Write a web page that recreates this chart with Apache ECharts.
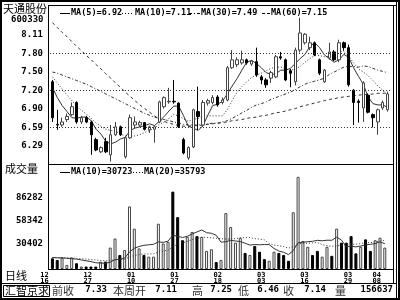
<!DOCTYPE html>
<html><head><meta charset="utf-8">
<script src="https://cdn.jsdelivr.net/npm/echarts@6/dist/echarts.min.js"></script>
<style>html,body{margin:0;padding:0;background:#fff}#c{width:400px;height:300px}</style>
</head><body><div id="c"></div>
<script>
const openP = [7.34,6.64,6.63,6.72,6.80,7.00,6.68,6.75,6.68,6.39, 6.19,6.36,6.14,6.47,6.60,6.11,6.42,6.63,6.63,6.67, 6.55,6.56,6.68,6.93,7.01,7.02,6.99,6.39,6.09,6.27, 6.85,6.63,6.99,7.00,7.09,7.00,7.04,7.57,7.62,7.65, 7.70,7.63,7.67,7.42,7.37,7.40,7.42,7.75,7.70,7.52, 7.34,7.86,7.98,7.90,7.98,7.70,7.34,7.73,7.83,7.70, 7.98,7.90,7.20,7.02,6.91,7.12,6.80,6.68,6.91,6.88];
const closeP = [6.75,6.63,6.68,6.77,6.93,6.68,6.75,6.68,6.47,6.22, 6.26,6.19,6.47,6.60,6.47,6.42,6.75,6.68,6.67,6.56, 6.60,6.60,7.01,7.08,7.02,7.01,6.60,6.17,6.26,6.88, 6.77,7.00,7.03,7.08,6.96,7.04,7.57,7.70,7.70,7.70, 7.65,7.68,7.45,7.37,7.29,7.49,7.75,7.73,7.37,7.48, 7.86,8.14,8.12,7.98,7.78,7.48,7.53,7.83,7.70,7.98, 7.90,7.29,7.00,7.00,7.32,6.84,6.75,6.88,7.00,7.14];
const highP = [7.37,6.88,6.75,6.82,7.00,7.02,6.78,6.78,6.70,6.42, 6.28,6.42,6.63,6.68,6.62,6.45,6.80,6.77,6.70,6.68, 6.62,6.62,7.03,7.10,7.24,7.37,7.00,6.42,6.28,6.90, 7.26,7.04,7.06,7.12,7.12,7.08,7.60,7.86,7.74,7.85, 7.72,7.70,7.90,7.45,7.40,7.52,7.78,7.83,7.72,7.55, 7.90,8.39,8.14,8.08,8.00,7.72,7.55,7.98,7.86,8.03, 8.00,7.95,7.22,7.05,7.35,7.15,6.82,6.90,7.03,7.18];
const lowP = [6.68,6.55,6.60,6.68,6.78,6.65,6.65,6.66,6.14,6.20, 6.17,6.17,6.03,6.45,6.45,6.08,6.40,6.58,6.60,6.54, 6.50,6.34,6.66,6.90,6.98,6.98,6.58,6.15,6.06,6.25, 6.55,6.60,6.95,6.97,6.93,6.97,7.02,7.55,7.58,7.62, 7.62,7.60,7.42,7.30,7.24,7.32,7.40,7.70,7.35,7.25, 7.28,7.82,7.95,7.86,7.76,7.45,7.32,7.70,7.68,7.66, 7.85,7.26,6.63,6.67,6.68,6.82,6.59,6.47,6.88,6.85];
const volume = [13000,11000,14000,5000,14000,7000,3000,3000,3000,3000, 9000,9000,26000,37000,17000,23000,76000,49000,25000,17000, 15000,15000,55000,31000,33000,94000,63000,35000,39000,45000, 40000,39000,22000,24000,8500,11000,68000,51000,32000,38000, 19500,17000,28000,21000,12000,10000,21000,19500,17000,10000, 69000,112000,34000,27000,17000,22000,15000,27000,16000,49000, 32000,32000,40000,19000,27000,36000,22000,35000,38000,26000];
const ma5 = [7.25,7.08,6.95,6.85,6.75,6.74,6.76,6.76,6.70,6.56, 6.48,6.36,6.32,6.35,6.40,6.43,6.54,6.58,6.60,6.62, 6.65,6.62,6.69,6.77,6.86,6.94,6.94,6.78,6.61,6.58, 6.54,6.62,6.79,6.95,6.97,7.02,7.14,7.27,7.39,7.53, 7.66,7.69,7.64,7.57,7.49,7.46,7.47,7.53,7.53,7.56, 7.64,7.72,7.79,7.92,7.98,7.90,7.78,7.72,7.66,7.70, 7.79,7.74,7.57,7.43,7.30,7.09,6.98,6.96,6.96,6.92];
const ma10 = [7.42,7.32,7.22,7.12,7.03,6.94,6.87,6.81,6.74,6.66, 6.61,6.56,6.54,6.53,6.48,6.45,6.45,6.45,6.47,6.51, 6.54,6.58,6.64,6.68,6.74,6.80,6.78,6.73,6.69,6.72, 6.74,6.78,6.78,6.78,6.78,6.78,6.88,7.03,7.17,7.26, 7.34,7.41,7.45,7.48,7.52,7.56,7.58,7.58,7.55,7.53, 7.55,7.59,7.66,7.72,7.77,7.77,7.75,7.76,7.79,7.84, 7.84,7.76,7.65,7.55,7.50,7.44,7.36,7.27,7.20,7.11];
const ma30 = [7.50,7.48,7.45,7.42,7.39,7.36,7.33,7.30,7.26,7.22, 7.18,7.14,7.10,7.06,7.02,6.98,6.94,6.90,6.86,6.82, 6.79,6.76,6.74,6.72,6.70,6.68,6.66,6.64,6.63,6.63, 6.63,6.64,6.65,6.66,6.66,6.68,6.70,6.74,6.78,6.83, 6.87,6.92,6.96,6.98,7.01,7.05,7.08,7.11,7.14,7.17, 7.21,7.26,7.30,7.33,7.35,7.37,7.40,7.46,7.50,7.54, 7.58,7.59,7.59,7.58,7.60,7.59,7.56,7.53,7.51,7.49];
const ma60 = [8.31,8.23,8.15,8.08,8.00,7.92,7.85,7.77,7.70,7.62, 7.55,7.47,7.40,7.32,7.25,7.17,7.10,7.03,6.96,6.90, 6.84,6.78,6.73,6.69,6.66,6.64,6.62,6.61,6.61,6.62, 6.62,6.63,6.64,6.65,6.66,6.67,6.68,6.70,6.71,6.72, 6.74,6.75,6.76,6.78,6.79,6.81,6.83,6.84,6.86,6.88, 6.90,6.93,6.95,6.97,6.99,7.01,7.03,7.05,7.06,7.08, 7.09,7.10,7.11,7.12,7.13,7.13,7.14,7.15,7.15,7.16];
const volMa10 = [14000,13500,13500,13000,12500,12000,11000,10000,9000,7600, 7200,7000,8200,11400,11700,13300,20600,25200,27400,28800, 29400,30000,32900,32300,33900,41000,39700,38300,39700,42500, 45000,47400,44100,43400,40950,32650,33150,34750,34050,33350, 31300,29100,29700,29400,29750,29650,24950,21800,20300,17500, 22450,31950,32550,33150,33650,34850,34250,35000,34900,38800, 35100,27100,27700,26900,27900,29300,30000,30800,33000,30723];
const volMa20 = [14000,14000,13800,13500,13300,13000,12500,12000,11500,11000, 10500,10000,10200,11200,11500,12000,14500,16500,17500,18200, 18300,18500,20550,21850,22800,27150,30150,31750,33550,35650, 37200,38700,38500,37850,37400,36800,36400,36500,36900,37900, 38150,38250,36900,36400,35350,31150,29050,28300,27200,25400, 26900,30500,31100,31300,31700,32250,29600,28400,27600,28150, 28800,29500,30100,30000,30800,32100,32100,32900,33950,35000];
const priceTicks = [8.11, 7.80, 7.50, 7.20, 6.90, 6.59, 6.29];
const priceGridLines = [7.80, 7.20, 6.59];
const volTicks = [86282, 58342, 30402];
const dateIdx = [0, 9, 18, 27, 36, 45, 54, 63, 69];
const dateLabels = ['12\n16', '12\n27', '01\n10', '01\n27', '02\n18', '03\n03', '03\n16', '03\n29', '04\n08'];
const priceHeader = ['MA(5)=6.92', 'MA(10)=7.11', 'MA(30)=7.49', 'MA(60)=7.15'];
const volHeader = ['MA(10)=30723', 'MA(20)=35793'];
const infoLabels = ['前收', '本周开', '高', '低', '收', '量'];
const infoValues = ['7.33', '7.11', '7.25', '6.46', '7.14', '156637'];

const cats = closeP.map((_, i) => String(i));
const kData = closeP.map((c, i) => [openP[i], c, lowP[i], highP[i]]);
const volData = volume.map((v, i) => ({
  value: v,
  itemStyle: closeP[i] >= openP[i] ? {color: '#fff', borderColor: '#444', borderWidth: 1} : {color: '#000', borderColor: '#000', borderWidth: 1}
}));

const MONO = '"DejaVu Sans Mono", monospace';
const CJK = '"Noto Sans CJK SC", sans-serif';
const chart = echarts.init(document.getElementById('c'), null, {renderer: 'canvas'});

function ln(x1, y1, x2, y2, dash, w) {
  return {type: 'line', silent: true, z: 100, shape: {x1, y1, x2, y2},
    style: {stroke: '#000', lineWidth: w || 1, lineDash: dash || null}};
}
function tx(x, y, text, font, align, fill) {
  return {type: 'text', silent: true, z: 100, x, y,
    style: {text, font, fill: fill || '#000', textAlign: align || 'left', textVerticalAlign: 'middle', align: align || 'left', verticalAlign: 'middle'}};
}

const hdrFont = 'bold 8.5px ' + MONO;
const graphics = [
  {type: 'rect', silent: true, z: 100, shape: {x: 1, y: 1, width: 398, height: 298}, style: {fill: null, stroke: '#000', lineWidth: 2}},
  ln(396.5, 2, 396.5, 298),
  ln(48, 5.5, 397, 5.5),
  ln(48.5, 5, 48.5, 270),
  ln(393.5, 5, 393.5, 283),
  ln(48, 164.5, 394, 164.5),
  ln(48, 269.5, 394, 269.5),
  ln(2, 283.5, 397, 283.5),
  {type: 'rect', silent: true, z: 100, shape: {x: 3.5, y: 285.5, width: 46, height: 11}, style: {fill: null, stroke: '#000', lineWidth: 1}},
  tx(3, 9, '天通股份', '11px ' + CJK),
  tx(11, 20, '600330', 'bold 9px ' + MONO),
  tx(5, 169, '成交量', '11px ' + CJK),
  tx(5, 276, '日线', '11px ' + CJK),
  ln(60, 13.5, 70, 13.5),
  tx(71, 13, priceHeader[0], hdrFont),
  ln(122, 13.5, 134, 13.5, [1, 2]),
  tx(135, 13, priceHeader[1], hdrFont),
  ln(189, 13.5, 200, 13.5, [3, 2, 1, 2]),
  tx(201, 13, priceHeader[2], hdrFont),
  ln(262, 13.5, 270, 13.5, [3, 2]),
  tx(271, 13, priceHeader[3], hdrFont),
  ln(60, 172.5, 70, 172.5),
  tx(71, 172, volHeader[0], hdrFont),
  ln(133, 172.5, 143, 172.5, [1, 2]),
  tx(144, 172, volHeader[1], hdrFont),
  tx(5, 291, '汇智京求', '11px ' + CJK)
];
const infoLabelX = [52, 113, 192, 238, 283, 335];
const infoValueRight = [107, 177, 232, 279, 326, 393];
infoLabels.forEach((t, i) => {
  graphics.push(tx(infoLabelX[i], 291, t, '11px ' + CJK, 'left', '#333'));
  graphics.push(tx(infoValueRight[i], 290, infoValues[i], 'bold 9px ' + MONO, 'right'));
});

const lineS = (data, type, xi, yi, color) => ({
  type: 'line', data, xAxisIndex: xi, yAxisIndex: yi, showSymbol: false, symbol: 'none', silent: true,
  clip: true, lineStyle: {width: 1, color: color || '#333', type}, z: 3
});

chart.setOption({
  animation: false,
  backgroundColor: '#fff',
  grid: [
    {left: 50, right: 10, top: 5, height: 159},
    {left: 50, right: 10, top: 164, height: 105}
  ],
  xAxis: [
    {type: 'category', gridIndex: 0, data: cats, boundaryGap: true, axisLine: {show: false}, axisTick: {show: false}, axisLabel: {show: false}, splitLine: {show: false}},
    {type: 'category', gridIndex: 1, data: cats, boundaryGap: true, axisLine: {show: false}, axisTick: {show: false}, splitLine: {show: false},
     axisLabel: {show: true, interval: (i) => dateIdx.indexOf(i) >= 0, hideOverlap: false,
       formatter: (v, i) => { const k = dateIdx.indexOf(Number(v)); return k >= 0 ? dateLabels[k] : ''; },
       margin: 3, fontSize: 7, lineHeight: 6, fontWeight: 'bold', fontFamily: MONO, color: '#000', padding: [0, 16, 0, 0]}}
  ],
  yAxis: [
    {type: 'value', gridIndex: 0, min: 5.99, max: 8.60, axisLine: {show: false}, axisTick: {show: false}, splitLine: {show: false},
     axisLabel: {customValues: priceTicks, formatter: (v) => v.toFixed(2), margin: 7, fontSize: 9, fontWeight: 'bold', fontFamily: MONO, color: '#000'}},
    {type: 'value', gridIndex: 1, min: 0, max: 127575, axisLine: {show: false}, axisTick: {show: false}, splitLine: {show: false},
     axisLabel: {customValues: volTicks, formatter: (v) => String(v), margin: 7, fontSize: 9, fontWeight: 'bold', fontFamily: MONO, color: '#000'}}
  ],
  series: [
    {type: 'candlestick', data: kData, xAxisIndex: 0, yAxisIndex: 0, barWidth: 3, silent: true,
     itemStyle: {color: '#fff', color0: '#000', borderColor: '#444', borderColor0: '#000', borderWidth: 1},
     markLine: {silent: true, symbol: ['none', 'none'], label: {show: false},
       lineStyle: {type: [1, 2], color: '#333', width: 1}, data: priceGridLines.map(v => ({yAxis: v}))}, z: 4},
    lineS(ma5, 'solid', 0, 0),
    lineS(ma10, [1, 2], 0, 0),
    lineS(ma30, [3, 2, 1, 2], 0, 0),
    lineS(ma60, [3, 3], 0, 0),
    {type: 'bar', data: volData, xAxisIndex: 1, yAxisIndex: 1, barWidth: 3, silent: true, z: 2},
    lineS(volMa10, 'solid', 1, 1),
    lineS(volMa20, [1, 2], 1, 1)
  ],
  graphic: graphics
});
</script></body></html>
